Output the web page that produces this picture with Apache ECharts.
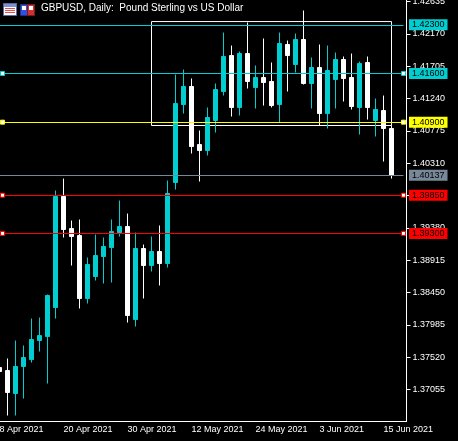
<!DOCTYPE html>
<html>
<head>
<meta charset="utf-8">
<title>GBPUSD Daily</title>
<script src="https://cdn.jsdelivr.net/npm/echarts@6/dist/echarts.min.js"></script>
<style>
  html, body { margin: 0; padding: 0; background: #000; }
  #main { width: 458px; height: 441px; }
</style>
</head>
<body>
<div id="main"></div>
<script>
// GBPUSD daily bars
var days = ['8 Apr 2021', '9 Apr 2021', '12 Apr 2021', '13 Apr 2021', '14 Apr 2021', '15 Apr 2021', '16 Apr 2021',
  '19 Apr 2021', '20 Apr 2021', '21 Apr 2021', '22 Apr 2021', '23 Apr 2021', '26 Apr 2021', '27 Apr 2021',
  '28 Apr 2021', '29 Apr 2021', '30 Apr 2021', '3 May 2021', '4 May 2021', '5 May 2021', '6 May 2021',
  '7 May 2021', '10 May 2021', '11 May 2021', '12 May 2021', '13 May 2021', '14 May 2021', '17 May 2021',
  '18 May 2021', '19 May 2021', '20 May 2021', '21 May 2021', '24 May 2021', '25 May 2021', '26 May 2021',
  '27 May 2021', '28 May 2021', '31 May 2021', '1 Jun 2021', '2 Jun 2021', '3 Jun 2021', '4 Jun 2021',
  '7 Jun 2021', '8 Jun 2021', '9 Jun 2021', '10 Jun 2021', '11 Jun 2021', '14 Jun 2021', '15 Jun 2021',
  '16 Jun 2021', ''];

var opens = [1.37371, 1.37328, 1.36997, 1.37386, 1.37486, 1.37760, 1.37817,
  1.38234, 1.39831, 1.39370, 1.39270, 1.38364, 1.38680, 1.38968,
  1.39097, 1.39313, 1.39399, 1.38062, 1.39083, 1.38838, 1.39040,
  1.38867, 1.40032, 1.41154, 1.41413, 1.40578, 1.40492, 1.40924,
  1.41341, 1.41858, 1.41111, 1.41887, 1.41398, 1.41542, 1.41485,
  1.41154, 1.42017, 1.41729, 1.42089, 1.41456, 1.41686, 1.41024,
  1.41513, 1.41801, 1.41542, 1.41111, 1.41758, 1.40924, 1.41067,
  1.40809];
var closes = [1.37314, 1.37012, 1.37386, 1.37515, 1.37774, 1.37831, 1.38407,
  1.39831, 1.39356, 1.39255, 1.38364, 1.38853, 1.38982, 1.39112,
  1.39327, 1.39399, 1.38119, 1.39083, 1.38838, 1.39040, 1.38867,
  1.39874, 1.41168, 1.41413, 1.40550, 1.40492, 1.40967, 1.41369,
  1.41844, 1.41111, 1.41887, 1.41485, 1.41542, 1.41470, 1.41139,
  1.42031, 1.41858, 1.42089, 1.41456, 1.41686, 1.41024, 1.41643,
  1.41801, 1.41528, 1.41125, 1.41743, 1.41111, 1.41082, 1.40809,
  1.40137];
var lows = [1.37184, 1.36681, 1.36681, 1.36925, 1.37443, 1.37601, 1.37141,
  1.38076, 1.39241, 1.38838, 1.38220, 1.38292, 1.38623, 1.38579,
  1.38594, 1.39255, 1.38018, 1.37961, 1.38364, 1.38752, 1.38551,
  1.38809, 1.39931, 1.41024, 1.40449, 1.40046, 1.40420, 1.40751,
  1.41283, 1.40981, 1.40996, 1.41384, 1.41096, 1.41139, 1.41111,
  1.40895, 1.41341, 1.41614, 1.41441, 1.41096, 1.40852, 1.40809,
  1.41096, 1.41197, 1.41082, 1.40722, 1.40938, 1.40694, 1.40334,
  1.40089];
var highs = [1.37472, 1.37501, 1.37760, 1.37688, 1.38076, 1.38090, 1.38421,
  1.39917, 1.40089, 1.39485, 1.39500, 1.38953, 1.39284, 1.39241,
  1.39500, 1.39773, 1.39586, 1.39313, 1.39140, 1.39255, 1.39414,
  1.40061, 1.41585, 1.41657, 1.41528, 1.40780, 1.41111, 1.41456,
  1.42189, 1.42002, 1.41916, 1.42333, 1.41715, 1.42103, 1.41758,
  1.42189, 1.42074, 1.42175, 1.42506, 1.41830, 1.42017, 1.42002,
  1.41902, 1.41844, 1.41887, 1.41772, 1.41844, 1.41240, 1.41283,
  1.40852];

var priceTicks = [1.42635, 1.42170, 1.41705, 1.41240, 1.40775, 1.40310, 1.39845,
  1.39380, 1.38915, 1.38450, 1.37985, 1.37520, 1.37055];

// horizontal lines: two cyan, yellow, bid, two red
var levelPrices = [1.42300, 1.41600, 1.40900, 1.40137, 1.39850, 1.39300];
// rectangle object
var boxDays = ['5 May 2021', '16 Jun 2021'];
var boxPrices = [1.42347, 1.40852];

var UP = '#00CED1';
var FONT = 'Liberation Sans, Arial, sans-serif';
var levelColors = [UP, UP, '#FFFF00', '#778899', '#FF0000', '#FF0000'];
var levelHandles = [false, true, true, false, true, true];

var candles = opens.map(function (o, i) {
  return [o, closes[i], lows[i], highs[i]];
});

var lineData = levelPrices.map(function (v, i) {
  return {
    yAxis: v,
    lineStyle: { color: levelColors[i] },
    label: { backgroundColor: levelColors[i] }
  };
});

var handleData = [];
levelPrices.forEach(function (v, i) {
  if (!levelHandles[i]) return;
  handleData.push({ x: 2.5, yAxis: v, itemStyle: { borderColor: levelColors[i] } });
  handleData.push({ x: 403.5, yAxis: v, itemStyle: { borderColor: levelColors[i] } });
});

var chart = echarts.init(document.getElementById('main'));
chart.setOption({
  backgroundColor: '#000',
  animation: false,
  title: {
    text: 'GBPUSD, Daily:  Pound Sterling vs US Dollar',
    left: 41,
    top: 3,
    padding: 0,
    textStyle: { color: '#fff', fontSize: 10, fontWeight: 'normal', fontFamily: FONT }
  },
  grid: {
    left: -4.5,
    width: 408,
    top: 0,
    height: 421.5,
    outerBoundsMode: 'none',
    containLabel: false
  },
  xAxis: {
    type: 'category',
    data: days,
    boundaryGap: true,
    axisLine: { lineStyle: { color: '#fff', width: 1 } },
    axisTick: { interval: 7, alignWithLabel: true, length: 4, lineStyle: { color: '#fff' } },
    axisLabel: {
      interval: 7,
      align: 'left',
      margin: 4,
      color: '#fff',
      fontSize: 9,
      fontFamily: FONT
    },
    splitLine: { show: false }
  },
  yAxis: {
    type: 'value',
    position: 'right',
    offset: 3,
    min: 1.36595,
    max: 1.42657,
    scale: true,
    axisLine: { show: true, lineStyle: { color: '#fff', width: 1 } },
    axisTick: { show: true, length: 4, customValues: priceTicks, lineStyle: { color: '#fff' } },
    axisLabel: {
      customValues: priceTicks,
      margin: 6,
      color: '#fff',
      fontSize: 9,
      fontFamily: FONT,
      formatter: function (v) { return v.toFixed(5); }
    },
    splitLine: { show: false }
  },
  series: [{
    type: 'candlestick',
    data: candles,
    barWidth: 4,
    itemStyle: {
      color: UP,
      color0: '#fff',
      borderColor: UP,
      borderColor0: '#fff',
      borderWidth: 1
    },
    markArea: {
      silent: true,
      itemStyle: { color: 'rgba(0,0,0,0)', borderColor: '#fff', borderWidth: 1 },
      data: [[
        { xAxis: boxDays[0], yAxis: boxPrices[0] },
        { xAxis: boxDays[1], yAxis: boxPrices[1] }
      ]]
    },
    markLine: {
      silent: true,
      precision: 5,
      symbol: 'none',
      emphasis: { disabled: true },
      lineStyle: { type: 'solid', width: 1 },
      label: {
        show: true,
        position: 'end',
        distance: 5.5,
        color: '#000',
        fontSize: 9,
        fontFamily: FONT,
        lineHeight: 9,
        padding: [1, 3, 1, 3],
        formatter: function (p) { return p.value.toFixed(5); }
      },
      data: lineData
    },
    markPoint: {
      silent: true,
      symbol: 'rect',
      symbolSize: 4,
      label: { show: false },
      itemStyle: { color: '#fff', borderWidth: 1 },
      data: handleData
    }
  }],
  graphic: [
    // corner of the frame
    { type: 'line', shape: { x1: 403, y1: 421.5, x2: 407, y2: 421.5 }, style: { stroke: '#fff', lineWidth: 1 } },
    // toolbar icons next to the title
    { type: 'rect', shape: { x: 3.5, y: 3.5, width: 13, height: 12 }, style: { fill: '#fff', stroke: '#5a6aa8', lineWidth: 1 } },
    { type: 'rect', shape: { x: 4, y: 4, width: 12, height: 3 }, style: { fill: '#7f8fd0' } },
    { type: 'rect', shape: { x: 5, y: 8, width: 10, height: 1 }, style: { fill: '#e05050' } },
    { type: 'rect', shape: { x: 5, y: 10, width: 10, height: 1 }, style: { fill: '#e05050' } },
    { type: 'rect', shape: { x: 5, y: 12, width: 10, height: 1 }, style: { fill: '#e05050' } },
    { type: 'rect', shape: { x: 20.5, y: 4.5, width: 7, height: 11 }, style: { fill: '#3050e0', stroke: '#20308a', lineWidth: 1 } },
    { type: 'rect', shape: { x: 27.5, y: 4.5, width: 7, height: 11 }, style: { fill: '#d03030', stroke: '#801818', lineWidth: 1 } },
    { type: 'rect', shape: { x: 22, y: 6, width: 4, height: 4 }, style: { fill: '#fff' } },
    { type: 'rect', shape: { x: 29, y: 6, width: 4, height: 4 }, style: { fill: '#fff' } }
  ]
});
</script>
</body>
</html>
